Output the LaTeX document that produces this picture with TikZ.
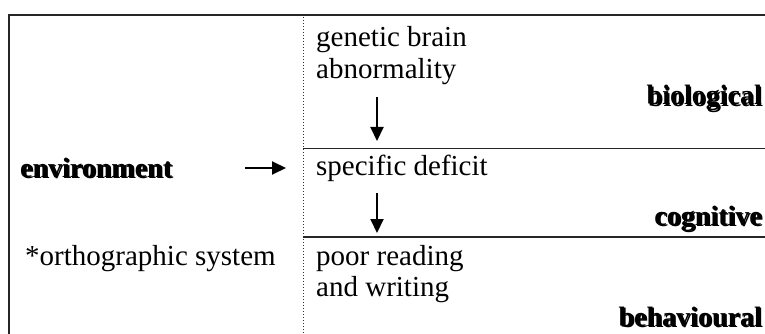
\documentclass[tikz,border=0pt]{standalone}
\usepackage{fontspec}
\setmainfont{Liberation Serif}
\usepackage{pdfrender}
\usetikzlibrary{arrows.meta}
% outlined bold lettering with a dark drop shadow
\newcommand{\outlinedtext}[1]{%
  \makebox[0pt][l]{\hspace*{1.4pt}\raisebox{-1.4pt}{#1}}%
  \textpdfrender{TextRenderingMode=FillStroke,LineWidth=1.5,FillColor=white,StrokeColor=black}{#1}}
\begin{document}
\begin{tikzpicture}[x=1pt,y=-1pt,
  plain/.style={anchor=base west,inner sep=0pt,font=\fontsize{29}{32}\selectfont},
  level/.style={anchor=base east,inner sep=0pt,font=\fontsize{28}{32}\selectfont\bfseries},
  frame/.style={line width=2pt,draw=black!85},
  divider/.style={line width=1.6pt,draw=black!85},
  sep/.style={line width=1pt,dotted,draw=black!80},
  flow/.style={line width=2pt,-{Triangle[length=14pt,width=13pt]}}]
\useasboundingbox (0,0) rectangle (765,334);

% frame and dividers
\coordinate (tl) at (8.5,15);
\coordinate (tr) at (765,15);
\coordinate (bl) at (8.5,334);
\draw[frame] (bl) -- (tl) -- (tr);
\coordinate (dtop) at (303,17);
\coordinate (dbot) at (303,334);
\draw[sep] (dtop) -- (dbot);
\coordinate (h1l) at (303,148.5);
\coordinate (h1r) at (765,148.5);
\coordinate (h2l) at (303,237);
\coordinate (h2r) at (765,237);
\draw[divider] (h1l) -- (h1r);
\draw[divider] (h2l) -- (h2r);

% texts
\node[plain] (gen1) at (316,47) {genetic brain};
\node[plain] (gen2) at (316,79) {abnormality};
\node[plain] (spec) at (316,175) {specific deficit};
\node[plain] (poor1) at (316,265) {poor reading};
\node[plain] (poor2) at (316,296) {and writing};
\node[plain] (orth) at (25,265) {*orthographic system};
\node[level,anchor=base west] (env) at (20,177) {\outlinedtext{environment}};
\node[level] (bio) at (762,105) {\outlinedtext{biological}};
\node[level] (cog) at (762,225) {\outlinedtext{cognitive}};
\node[level] (beh) at (762,326) {\outlinedtext{behavioural}};

% arrows
\coordinate (a1s) at (377,97);
\coordinate (a1e) at (377,141);
\coordinate (a2s) at (377,193);
\coordinate (a2e) at (377,233);
\coordinate (a3s) at (245,168);
\coordinate (a3e) at (286,168);
\draw[flow] (a1s) -- (a1e);
\draw[flow] (a2s) -- (a2e);
\draw[flow] (a3s) -- (a3e);
\end{tikzpicture}
\end{document}
